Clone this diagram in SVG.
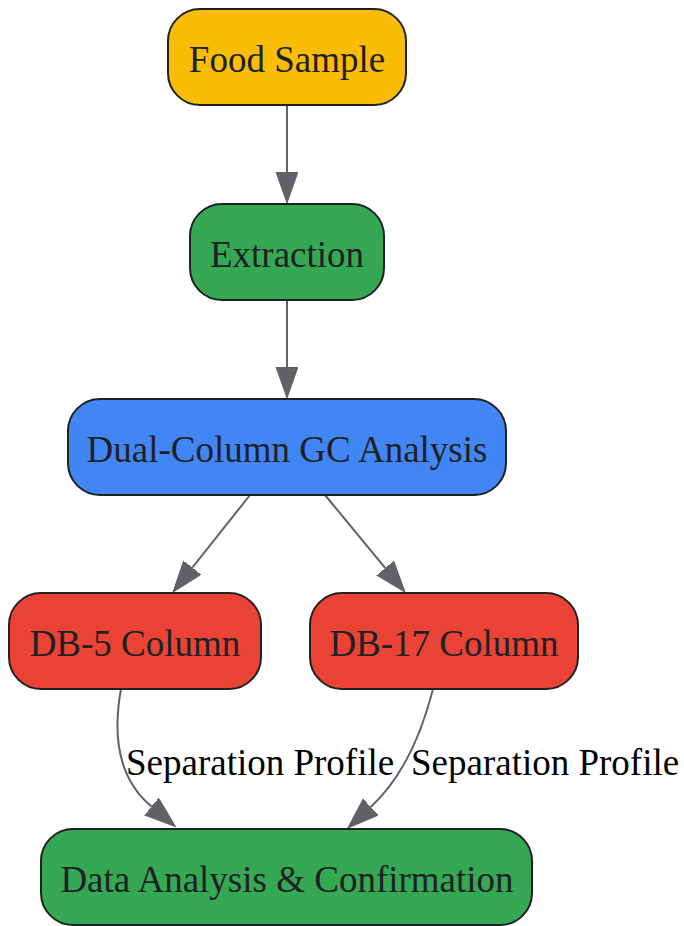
<svg xmlns="http://www.w3.org/2000/svg" width="684" height="926" viewBox="0 0 684 926">
<defs>
<style>
.node rect{stroke:#202124;stroke-width:2}
.node text{font-family:"Liberation Serif","Times New Roman",serif;font-size:37px;fill:#202124;text-anchor:middle}
.edge path{fill:none;stroke:#5F6368;stroke-width:2}
.lbl{font-family:"Liberation Serif","Times New Roman",serif;font-size:37px;fill:#000}
</style>
<marker id="ah" markerUnits="userSpaceOnUse" markerWidth="32" markerHeight="24" refX="0" refY="11" orient="auto" viewBox="0 0 32 24">
<path d="M0,0 L31,11 L0,22 z" fill="#5F6368" stroke="#5F6368" stroke-width="1"/>
</marker>
</defs>
<g id="edges" class="edge">
<path d="M287,105 L287,172" marker-end="url(#ah)"/>
<path d="M287,300 L287,367" marker-end="url(#ah)"/>
<path d="M250,495 L192.3,567.7" marker-end="url(#ah)"/>
<path d="M325,495 L385.3,568.1" marker-end="url(#ah)"/>
<path d="M121,689 C113,733 116,777 151.6,806.6" marker-end="url(#ah)"/>
<path d="M433,689 C420,740 400,780 370.7,807" marker-end="url(#ah)"/>
<text class="lbl" x="126" y="775">Separation Profile</text>
<text class="lbl" x="411" y="775">Separation Profile</text>
</g>
<g id="food" class="node"><rect x="168" y="9" width="238" height="96" rx="32" fill="#FBBC05"/><text x="287" y="72">Food Sample</text></g>
<g id="extraction" class="node"><rect x="190" y="204" width="194" height="96" rx="32" fill="#34A853"/><text x="287" y="267">Extraction</text></g>
<g id="gc" class="node"><rect x="68" y="399" width="438" height="96" rx="32" fill="#4285F4"/><text x="287" y="462">Dual-Column GC Analysis</text></g>
<g id="db5" class="node"><rect x="9" y="593" width="252" height="96" rx="32" fill="#EA4335"/><text x="135" y="656">DB-5 Column</text></g>
<g id="db17" class="node"><rect x="310" y="593" width="268" height="96" rx="32" fill="#EA4335"/><text x="444" y="656">DB-17 Column</text></g>
<g id="data" class="node"><rect x="41" y="829" width="491" height="96" rx="32" fill="#34A853"/><text x="287" y="892">Data Analysis &amp; Confirmation</text></g>
</svg>
